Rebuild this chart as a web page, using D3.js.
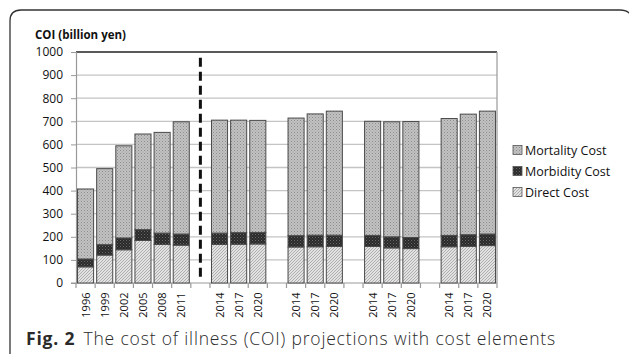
<!DOCTYPE html>
<html lang="en">
<head>
  <meta charset="UTF-8">
  <title>COI projections</title>
  <style>
    body{ margin:0; background:#fff; }
    .tick text{ font-family:"Open Sans", sans-serif; fill:#111; }
    .grid-line{ stroke:#c4c4c4; stroke-width:1.3; }
  </style>
</head>
<body>
  <script src="https://cdn.jsdelivr.net/npm/d3@7"></script>
  <script>
    const width = 629, height = 354;
    // slot labels ('' = empty gap slot)
    const categories = ['1996','1999','2002','2005','2008','2011','',
      '2014','2017','2020','','2014','2017','2020','','2014','2017','2020','','2014','2017','2020'];
    const directCost    = [70,121,144,184,167,164,null,167,168,169,null,156,157,158,null,158,152,149,null,157,159,162];
    const morbidityCost = [34,45,51,47,49,48,null,49,50,50,null,49,50,49,null,48,48,48,null,49,50,50];
    const mortalityCost = [303,329,399,414,436,486,null,489,487,485,null,509,525,537,null,494,498,502,null,506,522,532];
    const yTicks = [0,100,200,300,400,500,600,700,800,900,1000];
    const seriesNames = ['Mortality Cost','Morbidity Cost','Direct Cost'];

    const plot = {left: 76, right: 497, top: 52, bottom: 283};

    const svg = d3.select('body').append('svg')
      .attr('width', width)
      .attr('height', height);

    // fill patterns
    const defs = svg.append('defs');
    const pMort = defs.append('pattern').attr('id','pMort')
      .attr('width',3).attr('height',3).attr('patternUnits','userSpaceOnUse');
    pMort.append('rect').attr('width',3).attr('height',3).attr('fill','#c2c2c2');
    pMort.append('rect').attr('width',1).attr('height',1).attr('fill','#8c8c8c');
    pMort.append('rect').attr('x',1.5).attr('y',1.5).attr('width',1).attr('height',1).attr('fill','#9c9c9c');

    const pMorb = defs.append('pattern').attr('id','pMorb')
      .attr('width',3).attr('height',3).attr('patternUnits','userSpaceOnUse');
    pMorb.append('rect').attr('width',3).attr('height',3).attr('fill','#2a2a2a');
    pMorb.append('rect').attr('width',1).attr('height',1).attr('fill','#6a6a6a');
    pMorb.append('rect').attr('x',1.5).attr('y',1.5).attr('width',1).attr('height',1).attr('fill','#555');

    const pDir = defs.append('pattern').attr('id','pDir')
      .attr('width',3).attr('height',3).attr('patternUnits','userSpaceOnUse');
    pDir.append('rect').attr('width',3).attr('height',3).attr('fill','#e2e2e2');
    pDir.append('path').attr('d','M0,3 L3,0 M-1,1 L1,-1 M2,4 L4,2')
      .attr('stroke','#a8a8a8').attr('stroke-width',0.9);

    const fills = ['url(#pMort)','url(#pMorb)','url(#pDir)'];

    // frame
    svg.append('path')
      .attr('d', `M10,${height+5} L10,21 Q10,10 21,10 L620,10 Q627,10 630,14`)
      .attr('fill','none').attr('stroke','#333').attr('stroke-width',1.3);

    const y = d3.scaleLinear().domain([0, 1000]).range([plot.bottom, plot.top]);
    const slotW = (plot.right - plot.left) / categories.length;
    const slotLeft = i => plot.left + i * slotW;

    // grid
    svg.append('g').selectAll('line').data(yTicks.slice(1, -1)).join('line')
      .classed('grid-line', true)
      .attr('x1', plot.left).attr('x2', plot.right)
      .attr('y1', d => y(d)).attr('y2', d => y(d));
    svg.append('line').attr('x1', plot.left).attr('x2', plot.right)
      .attr('y1', y(1000)).attr('y2', y(1000)).attr('stroke','#222').attr('stroke-width',1.3);
    svg.append('line').attr('x1', plot.right).attr('x2', plot.right)
      .attr('y1', y(1000)).attr('y2', y(0)).attr('stroke','#999').attr('stroke-width',1.2);

    // y axis
    const yAxis = d3.axisLeft(y).tickValues(yTicks).tickSize(5).tickPadding(8).tickFormat(d3.format('d'));
    const gy = svg.append('g').attr('transform', `translate(${plot.left},0)`).call(yAxis);
    gy.select('.domain').attr('stroke','#999').attr('stroke-width',1.2);
    gy.selectAll('.tick line').attr('stroke','#999');
    gy.selectAll('.tick text').attr('font-size', 12);

    // x axis (boundary ticks + rotated labels)
    svg.append('line').attr('x1', plot.left - 5).attr('x2', plot.right)
      .attr('y1', y(0)).attr('y2', y(0)).attr('stroke','#999').attr('stroke-width',1.2);
    svg.append('g').selectAll('line').data(d3.range(categories.length + 1)).join('line')
      .attr('x1', d => slotLeft(d)).attr('x2', d => slotLeft(d))
      .attr('y1', y(0)).attr('y2', y(0) + 5)
      .attr('stroke','#999').attr('stroke-width',1.2);
    svg.append('g').selectAll('text').data(categories).join('text')
      .attr('transform', (d, i) => `translate(${slotLeft(i) + slotW / 2 + 4},${y(0) + 9.5}) rotate(-90)`)
      .attr('text-anchor','end')
      .attr('font-family','"Open Sans", sans-serif')
      .attr('font-size', 11).attr('fill','#111')
      .text(d => d);

    // bars
    const stacks = categories.map((c, i) => ({
      i,
      parts: directCost[i] == null ? [] : [
        {k: 2, y0: 0, y1: directCost[i]},
        {k: 1, y0: directCost[i], y1: directCost[i] + morbidityCost[i]},
        {k: 0, y0: directCost[i] + morbidityCost[i], y1: directCost[i] + morbidityCost[i] + mortalityCost[i]}
      ]
    }));
    const bw = slotW * 0.84;
    svg.append('g').selectAll('g').data(stacks).join('g')
      .selectAll('rect').data(d => d.parts.map(p => ({...p, i: d.i}))).join('rect')
      .attr('x', d => slotLeft(d.i) + (slotW - bw) / 2)
      .attr('width', bw)
      .attr('y', d => y(d.y1))
      .attr('height', d => y(d.y0) - y(d.y1))
      .attr('fill', d => fills[d.k])
      .attr('stroke','#4a4a4a').attr('stroke-width',1);

    // dashed divider
    svg.append('line')
      .attr('x1', slotLeft(6) + slotW / 2).attr('x2', slotLeft(6) + slotW / 2)
      .attr('y1', y(975)).attr('y2', y(8))
      .attr('stroke','#111').attr('stroke-width',3).attr('stroke-dasharray','9,5');

    // y title
    svg.append('text').attr('x', 35).attr('y', 39)
      .attr('font-family','"Open Sans", sans-serif').attr('font-weight','bold')
      .attr('font-size', 11.5).attr('fill','#111')
      .text('COI (billion yen)');

    // legend
    const lg = svg.append('g').selectAll('g').data(seriesNames).join('g')
      .attr('transform', (d, i) => `translate(513,${150 + i * 21})`);
    lg.append('rect').attr('x', 0).attr('y', -4.5).attr('width', 9).attr('height', 9)
      .attr('fill', (d, i) => fills[i]).attr('stroke','#555').attr('stroke-width',0.8);
    lg.append('text').attr('x', 12).attr('y', 4.5)
      .attr('font-family','"Open Sans", sans-serif').attr('font-size', 12.5).attr('fill','#111')
      .text(d => d);

    // caption
    const cap = svg.append('text').attr('x', 26).attr('y', 345)
      .attr('font-family','"Open Sans", sans-serif').attr('font-size', 17.5).attr('fill','#2a2a2a');
    cap.append('tspan').attr('font-weight','bold').text('Fig. 2');
    cap.append('tspan').attr('dx', 8).attr('font-weight', 300).text('The cost of illness (COI) projections with cost elements');
    // stretch spacing a little so the caption spans the same width as the original
    const capW = cap.node().getComputedTextLength();
    const nChars = 'Fig. 2The cost of illness (COI) projections with cost elements'.length;
    cap.attr('letter-spacing', Math.max(0, (522 - capW) / nChars));
  </script>
</body>
</html>
